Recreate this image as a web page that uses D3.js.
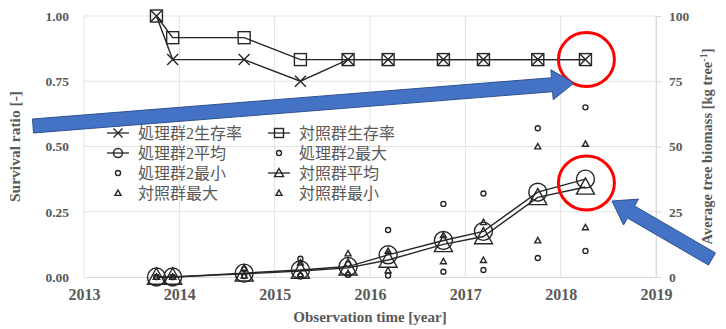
<!DOCTYPE html>
<html>
<head>
<meta charset="utf-8">
<script src="https://cdn.jsdelivr.net/npm/d3@7"></script>
<style>
  body { margin: 0; background: #fff; }
  svg { display: block; }
</style>
</head>
<body>
<div id="chart"></div>
<script>
// observation times (decimal years)
const times = [2013.76, 2013.93, 2014.68, 2015.27, 2015.77, 2016.19, 2016.77, 2017.19, 2017.76, 2018.26];

// survival ratio
const survTreat = [1.0, 0.833, 0.833, 0.75, 0.833, 0.833, 0.833, 0.833, 0.833, 0.833];
const survCtrl = [1.0, 0.917, 0.917, 0.833, 0.833, 0.833, 0.833, 0.833, 0.833, 0.833];

// biomass [kg tree-1]
const avgTreat = [0, 0, 1.5, 2.7, 4, 8.5, 14, 17.5, 32.5, 37.5];
const avgCtrl = [0, 0, 1.2, 2.3, 3.5, 6.5, 12.5, 15.5, 30.5, 34.5];
const maxTreat = [0, 0, 3, 7, 5, 18, 28, 32, 57, 65];
const minTreat = [0, 0, 0.4, 0.5, 0.8, 0.6, 2, 2.7, 7.3, 10];
const maxCtrl = [0, 0, 3.5, 5.5, 9, 10, 16, 21, 50, 51];
const minCtrl = [0, 0, 0.5, 1, 1.5, 2.5, 6, 6.5, 14, 19];

const yearTicks = [2013, 2014, 2015, 2016, 2017, 2018, 2019];
const leftTicks = [0, 0.25, 0.5, 0.75, 1.0];
const rightTicks = [0, 25, 50, 75, 100];

const legendItems = [
  { label: "処理群2生存率", kind: "x", line: true },
  { label: "対照群生存率", kind: "square", line: true },
  { label: "処理群2平均", kind: "circle", line: true },
  { label: "処理群2最大", kind: "dot", line: false },
  { label: "処理群2最小", kind: "dot", line: false },
  { label: "対照群平均", kind: "tri", line: true },
  { label: "対照群最大", kind: "smalltri", line: false },
  { label: "対照群最小", kind: "smalltri", line: false },
];

const width = 726;
const height = 329;
const grey = "#595959";
const ink = "#262626";
const serif = "'Liberation Serif', 'Times New Roman', serif";
const jp = "'Liberation Serif', 'Noto Sans CJK JP', serif";

const svg = d3
  .select("#chart")
  .append("svg")
  .attr("width", width)
  .attr("height", height);

const x = d3.scaleLinear().domain([2013, 2019]).range([84, 656]);
const yL = d3.scaleLinear().domain([0, 1]).range([277, 16]);
const yR = d3.scaleLinear().domain([0, 100]).range([277, 16]);

// grid
svg
  .append("g")
  .selectAll("line")
  .data(leftTicks.slice(1))
  .join("line")
  .attr("x1", x(2013))
  .attr("x2", x(2019))
  .attr("y1", (d) => yL(d))
  .attr("y2", (d) => yL(d))
  .attr("stroke", "#e3e3e3");

svg
  .append("g")
  .selectAll("line")
  .data(yearTicks)
  .join("line")
  .attr("x1", (d) => x(d))
  .attr("x2", (d) => x(d))
  .attr("y1", yL(1))
  .attr("y2", yL(0))
  .attr("stroke", "#e3e3e3");

// bottom axis
const xAxis = d3.axisBottom(x).tickValues(yearTicks).tickFormat(d3.format("d")).tickSize(0).tickPadding(12);
svg
  .append("g")
  .attr("transform", `translate(0,${yL(0)})`)
  .call(xAxis)
  .call((g) => g.select(".domain").attr("stroke", "#d9d9d9"))
  .call((g) =>
    g.selectAll("text").attr("font-family", serif).attr("font-size", 16).attr("font-weight", "bold").attr("fill", grey)
  );

// left axis
const yAxisL = d3.axisLeft(yL).tickValues(leftTicks).tickFormat(d3.format(".2f")).tickSize(0).tickPadding(15);
svg
  .append("g")
  .attr("transform", `translate(${x(2013)},0)`)
  .call(yAxisL)
  .call((g) => g.select(".domain").remove())
  .call((g) =>
    g.selectAll("text").attr("font-family", serif).attr("font-size", 13.5).attr("font-weight", "bold").attr("fill", grey)
  );

// right axis
const yAxisR = d3.axisRight(yR).tickValues(rightTicks).tickSize(5).tickPadding(8);
svg
  .append("g")
  .attr("transform", `translate(${x(2019)},0)`)
  .call(yAxisR)
  .call((g) => g.select(".domain").attr("stroke", "#d9d9d9"))
  .call((g) => g.selectAll(".tick line").attr("stroke", "#d9d9d9"))
  .call((g) =>
    g.selectAll("text").attr("font-family", serif).attr("font-size", 13.5).attr("font-weight", "bold").attr("fill", grey)
  );

// axis titles
svg
  .append("text")
  .attr("transform", `translate(20,${yL(0.5)}) rotate(-90)`)
  .attr("text-anchor", "middle")
  .attr("font-family", serif)
  .attr("font-size", 15.5)
  .attr("font-weight", "bold")
  .attr("fill", grey)
  .text("Survival ratio [-]");

svg
  .append("text")
  .attr("x", 370)
  .attr("y", 322)
  .attr("text-anchor", "middle")
  .attr("font-family", serif)
  .attr("font-size", 15)
  .attr("font-weight", "bold")
  .attr("fill", grey)
  .text("Observation time [year]");

const rt = svg
  .append("text")
  .attr("transform", `translate(712,${yL(0.5)}) rotate(-90)`)
  .attr("text-anchor", "middle")
  .attr("font-family", serif)
  .attr("font-size", 14.5)
  .attr("font-weight", "bold")
  .attr("fill", grey);
rt.append("tspan").text("Average tree biomass [kg tree");
rt.append("tspan").attr("dy", -5).attr("font-size", 10).text("-1");
rt.append("tspan").attr("dy", 5).text("]");

// marker drawing
function drawMarker(g, kind, cx, cy, s) {
  const m = g.append("g").attr("transform", `translate(${cx},${cy})`);
  const st = { stroke: ink, "stroke-width": 1.4, fill: "none" };
  const apply = (sel) => Object.entries(st).forEach(([k, v]) => sel.attr(k, v));
  if (kind === "x") {
    const h = s / 2;
    apply(m.append("path").attr("d", `M${-h},${-h}L${h},${h}M${-h},${h}L${h},${-h}`));
  } else if (kind === "square") {
    apply(m.append("rect").attr("x", -s / 2).attr("y", -s / 2).attr("width", s).attr("height", s));
  } else if (kind === "circle" || kind === "dot") {
    apply(m.append("circle").attr("r", s / 2));
  } else {
    const h = s / 2;
    apply(m.append("path").attr("d", `M0,${-h}L${h},${h * 0.8}L${-h},${h * 0.8}Z`));
  }
}

const lineL = d3.line().x((d) => x(d[0])).y((d) => yL(d[1]));
const lineR = d3.line().x((d) => x(d[0])).y((d) => yR(d[1]));

function addLine(gen, values) {
  svg
    .append("path")
    .datum(times.map((t, i) => [t, values[i]]))
    .attr("fill", "none")
    .attr("stroke", ink)
    .attr("stroke-width", 1.4)
    .attr("d", gen);
}

addLine(lineR, avgTreat);
addLine(lineR, avgCtrl);
addLine(lineL, survTreat);
addLine(lineL, survCtrl);

const marks = svg.append("g");
times.forEach((t, i) => {
  drawMarker(marks, "dot", x(t), yR(maxTreat[i]), 5);
  drawMarker(marks, "dot", x(t), yR(minTreat[i]), 5);
  drawMarker(marks, "smalltri", x(t), yR(maxCtrl[i]), 6);
  drawMarker(marks, "smalltri", x(t), yR(minCtrl[i]), 6);
  drawMarker(marks, "circle", x(t), yR(avgTreat[i]), 18);
  drawMarker(marks, "tri", x(t), yR(avgCtrl[i]), 18);
  drawMarker(marks, "x", x(t), yL(survTreat[i]), 11);
  drawMarker(marks, "square", x(t), yL(survCtrl[i]), 12);
});

// legend
const legend = svg.append("g");
legendItems.forEach((d, i) => {
  const col = i % 2;
  const row = Math.floor(i / 2);
  const lx = col === 0 ? 107 : 268;
  const ly = 133 + row * 20;
  const g = legend.append("g");
  if (d.line) {
    g.append("line")
      .attr("x1", lx)
      .attr("x2", lx + 22)
      .attr("y1", ly)
      .attr("y2", ly)
      .attr("stroke", ink)
      .attr("stroke-width", 1.3);
  }
  const sizes = { x: 9, square: 9, circle: 9, tri: 9, dot: 5, smalltri: 6 };
  drawMarker(g, d.kind, lx + 11, ly, sizes[d.kind]);
  g.append("text")
    .attr("x", lx + 31)
    .attr("y", ly + 6)
    .attr("font-family", jp)
    .attr("font-size", 16)
    .attr("fill", grey)
    .text(d.label);
});

// highlight circles
[yL(0.833), yR(36)].forEach((cy) => {
  svg
    .append("ellipse")
    .attr("cx", x(2018.27))
    .attr("cy", cy)
    .attr("rx", 28)
    .attr("ry", 27)
    .attr("fill", "none")
    .attr("stroke", "#ff0000")
    .attr("stroke-width", 3);
});

// blue arrows
function arrow(x0, y0, x1, y1, w, hw, hl) {
  const dx = x1 - x0;
  const dy = y1 - y0;
  const len = Math.hypot(dx, dy);
  const ux = dx / len;
  const uy = dy / len;
  const nx = -uy;
  const ny = ux;
  const bx = x1 - ux * hl;
  const by = y1 - uy * hl;
  const pts = [
    [x0 + nx * w / 2, y0 + ny * w / 2],
    [bx + nx * w / 2, by + ny * w / 2],
    [bx + nx * hw / 2, by + ny * hw / 2],
    [x1, y1],
    [bx - nx * hw / 2, by - ny * hw / 2],
    [bx - nx * w / 2, by - ny * w / 2],
    [x0 - nx * w / 2, y0 - ny * w / 2],
  ];
  svg
    .append("path")
    .attr("d", d3.line()(pts) + "Z")
    .attr("fill", "#4472c4")
    .attr("stroke", "#2f528f")
    .attr("stroke-width", 1);
}
arrow(33, 126, 574, 83, 14, 30, 22);
arrow(712, 259, 612, 201, 14, 30, 22);
</script>
</body>
</html>
